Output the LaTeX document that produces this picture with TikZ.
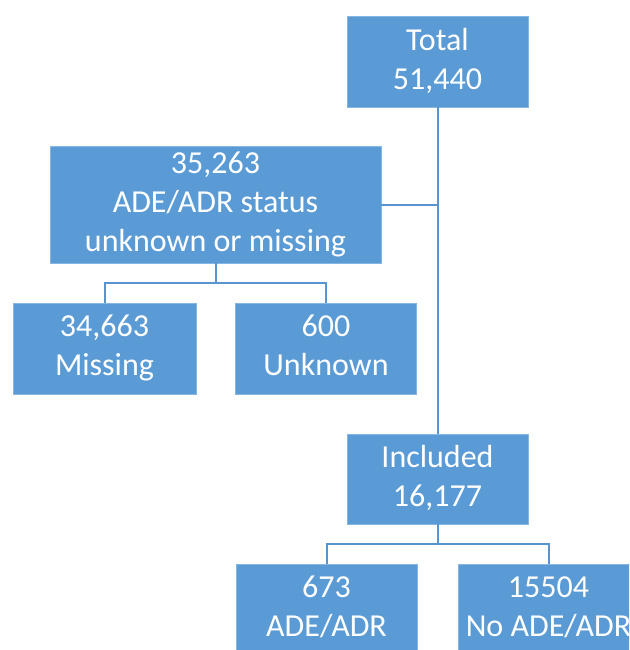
\documentclass[tikz,border=0pt]{standalone}
\usepackage{fontspec}
\setmainfont{Carlito}
\usepackage{tikz}
\usetikzlibrary{positioning,calc}
\definecolor{boxblue}{HTML}{5B9BD5}
\definecolor{edgeblue}{HTML}{86B6E2}
\definecolor{lineblue}{HTML}{5A94CE}

\begin{document}
\begin{tikzpicture}[
  x=1pt,y=-1pt,
  box/.style={draw=edgeblue,line width=0.8pt,fill=boxblue,text=white,align=center,
    inner sep=0pt,minimum width=181pt,minimum height=91pt,
    font=\fontsize{32}{39}\selectfont,
    execute at begin node=\rule{0pt}{34pt},
    execute at end node=\rule[-6pt]{0pt}{6pt}},
  link/.style={draw=lineblue,line width=2pt}
]
\useasboundingbox (0,0) rectangle (629,650);
\clip (0,0) rectangle (629,650);
\node[box] (total) at (437.5,61.5) {Total\\51,440};
\node[box,minimum width=331pt,minimum height=117pt] (unsure) at (215.5,204.5) {35,263\\ADE/ADR status\\unknown or missing};
\node[box,minimum width=183pt] (missing) at (104.5,348.5) {34,663\\Missing};
\node[box] (unknown) at (326,348.5) {600\\Unknown};
\node[box,minimum height=90pt] (incl) at (437.5,479) {Included\\16,177};
\node[box] (ade) at (326.5,609.5) {673\\ADE/ADR};
\node[box] (noade) at (548.5,609.5) {15504\\No ADE/ADR};
% trunk and side branch
\draw[link] (total) -- (incl);
\draw[link] (unsure.east) -- (unsure.east -| total.south);
% elbows to the lower boxes
\coordinate (jU) at ($(unsure.south)!.5!(unsure.south |- missing.north)$);
\coordinate (jI) at ($(incl.south)!.5!(incl.south |- ade.north)$);
\draw[link] (unsure.south) -- (jU);
\draw[link] (missing.north) |- (jU) -| (unknown.north);
\draw[link] (incl.south) -- (jI);
\draw[link] (ade.north) |- (jI) -| (noade.north);
\end{tikzpicture}
\end{document}
